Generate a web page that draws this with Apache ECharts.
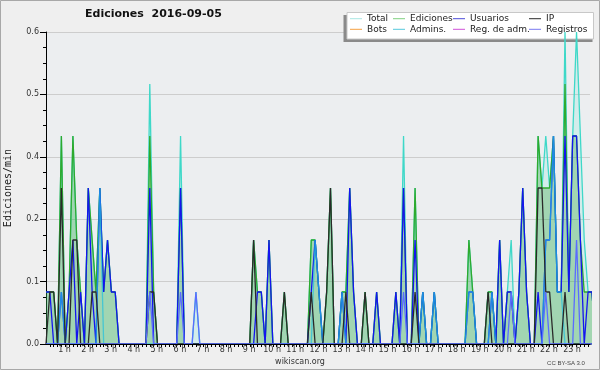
<!DOCTYPE html>
<html><head><meta charset="utf-8">
<script src="https://cdn.jsdelivr.net/npm/echarts@6/dist/echarts.min.js"></script>
<style>html,body{margin:0;padding:0;background:#efefef}#c{width:600px;height:370px}</style>
</head><body><div id="c"></div>
<script>
// 10-minute buckets (index 0..143), values in edits/min
const total = [
 .1,.1,.1,0,.4,0,.1,.4,.2,.1,0,.3,
 .2,.1,.3,.1,.2,.1,.1,0,0,0,0,0,
 0,0,0,.5,.1,0,0,0,0,0,0,.4,
 0,0,0,.1,0,0,0,0,0,0,0,0,
 0,0,0,0,0,0,.2,.1,.1,0,.2,0,
 0,0,.1,0,0,0,0,0,0,.2,.2,.1,
 0,.1,.3,0,0,.1,.1,.3,.1,0,0,.1,
 0,0,.1,0,0,0,0,.1,0,.4,0,0,
 .3,0,.1,0,0,.1,0,0,0,0,0,0,
 0,0,.2,.1,0,0,0,.1,.1,0,.2,0,
 .1,.2,0,.1,.3,.1,0,0,.4,.3,.4,.3,
 .4,.1,.1,.6,.1,.4,.6,.4,.2,.1,.1,0
];
const ediciones = [
 .1,.1,.1,0,.4,0,.1,.4,.2,.1,0,.3,
 .2,.1,.3,.1,.2,.1,.1,0,0,0,0,0,
 0,0,0,.4,.1,0,0,0,0,0,0,.3,
 0,0,0,0,0,0,0,0,0,0,0,0,
 0,0,0,0,0,0,.2,.1,.1,0,.2,0,
 0,0,.1,0,0,0,0,0,0,.2,.2,.1,
 0,.1,.3,0,0,.1,.1,.3,.1,0,0,.1,
 0,0,.1,0,0,0,0,.1,0,.3,0,0,
 .3,0,.1,0,0,.1,0,0,0,0,0,0,
 0,0,.2,.1,0,0,0,.1,.1,0,.2,0,
 .1,.1,0,.1,.3,.1,0,0,.4,.3,.3,.3,
 .4,.1,.1,.5,.1,.4,.4,.2,.1,.1,.1,0
];
const usuarios = [
 .1,.1,0,0,.1,0,.1,.2,0,.1,0,.3,
 .1,0,.3,.1,.2,.1,.1,0,0,0,0,0,
 0,0,0,.3,0,0,0,0,0,0,0,.3,
 0,0,0,0,0,0,0,0,0,0,0,0,
 0,0,0,0,0,0,0,.1,.1,0,.2,0,
 0,0,0,0,0,0,0,0,0,.1,.2,.1,
 0,0,0,0,0,.1,0,.3,.1,0,0,0,
 0,0,.1,0,0,0,0,.1,0,.3,0,0,
 .2,0,.1,0,0,.1,0,0,0,0,0,0,
 0,0,.1,.1,0,0,0,0,.1,0,.2,0,
 .1,.1,0,.1,.3,.1,0,0,.1,0,.2,.2,
 .4,.1,.1,.4,.1,.4,.4,.2,0,.1,.1,0
];
const ip = [
 0,.1,.1,0,.3,0,0,.2,.2,0,0,0,
 .1,.1,0,0,0,0,0,0,0,0,0,0,
 0,0,0,.1,.1,0,0,0,0,0,0,0,
 0,0,0,0,0,0,0,0,0,0,0,0,
 0,0,0,0,0,0,.2,0,0,0,0,0,
 0,0,.1,0,0,0,0,0,0,.1,0,0,
 0,.1,.3,0,0,0,.1,0,0,0,0,.1,
 0,0,0,0,0,0,0,0,0,0,0,0,
 .1,0,0,0,0,0,0,0,0,0,0,0,
 0,0,0,0,0,0,0,.1,0,0,0,0,
 0,0,0,0,0,0,0,0,.3,.3,.1,.1,
 0,0,0,.1,0,0,0,0,0,0,0,0
];
const admins = [
 0,0,0,0,.1,0,0,0,0,0,0,0,
 0,0,.3,0,0,0,0,0,0,0,0,0,
 0,0,0,0,0,0,0,0,0,0,0,0,
 0,0,0,0,0,0,0,0,0,0,0,0,
 0,0,0,0,0,0,0,0,0,0,0,0,
 0,0,0,0,0,0,0,0,0,0,.2,.1,
 0,0,0,0,0,.1,0,0,0,0,0,0,
 0,0,0,0,0,0,0,0,0,0,0,0,
 0,0,.1,0,0,.1,0,0,0,0,0,0,
 0,0,.1,.1,0,0,0,0,.1,0,0,0,
 0,0,0,0,0,0,0,0,0,0,.2,.2,
 .4,.1,.1,0,0,0,0,0,0,0,0,0
];
const registros = [
 0,0,0,0,0,0,0,0,0,0,0,0,
 0,0,0,0,0,0,0,0,0,0,0,0,
 0,0,0,.1,0,0,0,0,0,0,0,.1,
 0,0,0,.1,0,0,0,0,0,0,0,0,
 0,0,0,0,0,0,0,0,0,0,0,0,
 0,0,0,0,0,0,0,0,0,0,0,0,
 0,0,0,0,0,0,0,0,0,0,0,0,
 0,0,0,0,0,0,0,0,0,.1,0,0,
 0,0,0,0,0,0,0,0,0,0,0,0,
 0,0,0,0,0,0,0,0,0,0,0,0,
 0,.1,0,0,0,0,0,0,0,0,.1,0,
 0,0,0,0,0,0,.2,0,0,0,0,0
];
const bots = [];
const regAdm = [];
const hourLabels = ['1 h','2 h','3 h','4 h','5 h','6 h','7 h','8 h','9 h','10 h','11 h','12 h',
  '13 h','14 h','15 h','16 h','17 h','18 h','19 h','20 h','21 h','22 h','23 h'];
const legendColumns = [['Total','Bots'],['Ediciones','Admins.'],['Usuarios','Reg. de adm.'],['IP','Registros']];

const F = 'DejaVu Sans';
const legendColor = {
  'Total':'#a8e6e2','Ediciones':'#7fd07f','Usuarios':'#4a4ad8','IP':'#2a2a2a',
  'Bots':'#f5a040','Admins.':'#55c8dc','Reg. de adm.':'#d050d8','Registros':'#7878f0'
};
const legendX = [350, 393, 453, 529];

function mk(name, arr, color, w, areaColor, opacity) {
  const s = {
    name, type:'line', data: arr.map((v,i)=>[i,v]), symbol:'none', showSymbol:false,
    lineStyle:{color, width:w, opacity: opacity==null?1:opacity}, itemStyle:{color},
    emphasis:{disabled:true}, silent:true, clip:true, animation:false
  };
  if (areaColor) s.areaStyle = {color: areaColor, origin:'start'};
  return s;
}

const chart = echarts.init(document.getElementById('c'), null, {renderer:'canvas', width:600, height:370});
chart.setOption({
  backgroundColor:'#efefef',
  animation:false,
  title:{text:'Ediciones  2016-09-05', left:85, top:9, padding:0,
    textStyle:{fontFamily:F, fontSize:11, fontWeight:'bold', color:'#111'}},
  grid:{left:46, right:10, top:32, bottom:26, show:true, backgroundColor:'#eceef0', borderWidth:0,
    containLabel:false, outerBoundsMode:'none'},
  xAxis:{type:'value', min:0, max:141.5, interval:1, z:5,
    axisLine:{lineStyle:{color:'#000', width:1}},
    axisTick:{length:3, lineStyle:{color:'#000'}},
    splitLine:{show:false},
    axisLabel:{formatter: v => (v>0 && v%6===0) ? hourLabels[v/6-1] : '',
      fontFamily:F, fontSize:8, color:'#333', margin:2, padding:[0,9,0,0],
      showMaxLabel:false, showMinLabel:false}},
  yAxis:{type:'value', min:0, max:0.6, interval:0.12,
    name:'Ediciones/min', nameLocation:'middle', nameRotate:90, nameGap:33,
    nameTextStyle:{fontFamily:'DejaVu Sans Mono', fontSize:10, color:'#222'},
    axisLine:{show:true, lineStyle:{color:'#000'}},
    axisTick:{show:true, length:6, lineStyle:{color:'#000'}},
    minorTick:{show:true, splitNumber:4, length:3, lineStyle:{color:'#000'}},
    splitLine:{lineStyle:{color:'#cdcdcd'}},
    axisLabel:{formatter: v => v.toFixed(1), fontFamily:F, fontSize:8, color:'#333', margin:7}},
  legend: legendColumns.map((names, k) => ({
    orient:'vertical', left:legendX[k], top:13.4, padding:0, itemGap:0,
    itemWidth:12, itemHeight:1, icon:'rect', selectedMode:false,
    textStyle:{fontFamily:F, fontSize:9, color:'#222', lineHeight:10.6},
    data: names.map(n => ({name:n, itemStyle:{color:legendColor[n]}}))
  })),
  graphic:[
    {type:'rect', z:1, silent:true, shape:{x:343.5, y:15, width:249, height:27}, style:{fill:'#8a8a8a'}},
    {type:'rect', z:1, silent:true, shape:{x:347, y:12.5, width:246.5, height:26.5}, style:{fill:'#ffffff', stroke:'#c8c8c8', lineWidth:1}},
    {type:'text', z:10, silent:true, x:300, y:362, style:{text:'wikiscan.org', align:'center', verticalAlign:'middle', font:'8px "DejaVu Sans"', fill:'#333'}},
    {type:'text', z:10, silent:true, x:566, y:363, style:{text:'CC BY-SA 3.0', align:'center', verticalAlign:'middle', font:'6px "Liberation Sans"', fill:'#444'}},
    {type:'rect', z:100, silent:true, shape:{x:0.5, y:0.5, width:599, height:369}, style:{fill:'none', stroke:'#a8a8a8', lineWidth:1}}
  ],
  series:[
    mk('Total', total, '#3ed8c8', 1.3, 'rgba(64,224,208,0.2)'),
    mk('Ediciones', ediciones, '#2eaa2e', 1.3, 'rgba(40,160,40,0.42)'),
    mk('Usuarios', usuarios, '#1414f0', 1.3),
    mk('Admins.', admins, '#1fbfe0', 1.3, null, 0.7),
    mk('IP', ip, '#2a2a2a', 1.3),
    mk('Registros', registros, '#5a6cff', 1.3),
    mk('Bots', bots, '#f5a040', 1.3),
    mk('Reg. de adm.', regAdm, '#d050d8', 1.3)
  ]
});
</script></body></html>
